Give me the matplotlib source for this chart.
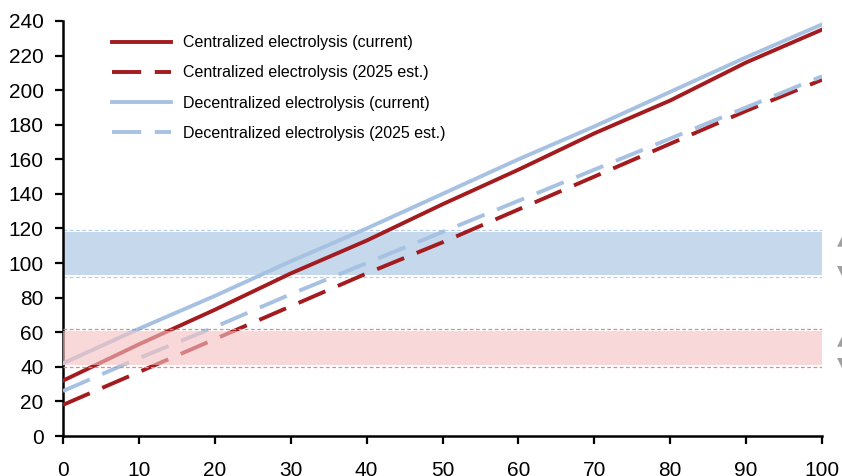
"""
Coste de hidrógeno: electrólisis centralizada vs descentralizada
"""
import matplotlib.pyplot as plt

# Datos
x = [0, 10, 20, 30, 40, 50, 60, 70, 80, 90, 100]
cent_current = [32, 53, 73, 94, 113, 134, 154, 175, 194, 216, 235]
cent_2025 = [18, 37, 56, 75, 94, 112, 131, 150, 169, 188, 206]
decent_current = [42, 62, 81, 101, 120, 140, 160, 179, 199, 219, 238]
decent_2025 = [26, 45, 63, 82, 100, 118, 136, 154, 172, 190, 208]

labels = ['Centralized electrolysis (current)',
          'Centralized electrolysis (2025 est.)',
          'Decentralized electrolysis (current)',
          'Decentralized electrolysis (2025 est.)']

blue_band = (92, 119)
red_band = (40, 62)

RED = '#A31B1F'
BLUE = '#A6C1E1'

plt.rcParams['font.family'] = ['Liberation Sans', 'DejaVu Sans']

fig = plt.figure(figsize=(8.42, 4.76), dpi=100)
ax = fig.add_axes([0.0748, 0.084, 0.9015, 0.872])

lw = 2.8
dash = (0, (7.5, 3.5))
ax.plot(x, cent_current, color=RED, lw=lw, label=labels[0], zorder=4)
ax.plot(x, cent_2025, color=RED, lw=lw, ls=dash, label=labels[1], zorder=4)
ax.plot(x, decent_current, color=BLUE, lw=lw, label=labels[2], zorder=4)
ax.plot(x, decent_2025, color=BLUE, lw=lw, ls=dash, label=labels[3], zorder=4)

# Banda azul debajo de las líneas, banda roja semitransparente encima
ax.axhspan(blue_band[0] + 1, blue_band[1] - 1, color='#C5D8EC', lw=0, zorder=1)
ax.axhspan(red_band[0] + 1, red_band[1] - 1, color=(245/255, 193/255, 193/255),
           alpha=0.62, lw=0, zorder=5)
for y in blue_band:
    ax.axhline(y, color='#B5CDE8', lw=0.9, ls=(0, (3, 2)), zorder=2)
for y in red_band:
    ax.axhline(y, color='#D98C8C', lw=0.9, ls=(0, (3, 2)), zorder=5)

ax.set_xlim(0, 100)
ax.set_ylim(0, 240)
ax.set_xticks(range(0, 101, 10))
ax.set_yticks(range(0, 241, 20))
ax.tick_params(labelsize=15, width=1.6, length=6, direction='out', pad=8)
ax.tick_params(axis='x', pad=12)
for s in ['top', 'right']:
    ax.spines[s].set_visible(False)
for s in ['left', 'bottom']:
    ax.spines[s].set_linewidth(1.8)

leg = ax.legend(loc='upper left', bbox_to_anchor=(0.045, 1.0), frameon=False,
                fontsize=11.5, handlelength=3.75, handletextpad=0.75,
                labelspacing=0.95)

# Flechas recortadas en el borde derecho
for yy, sym in [(240, '\u25B2'), (270, '\u25BC'), (340, '\u25B2'), (362, '\u25BC')]:
    fig.text(837 / 842, 1 - yy / 476, sym, color='#A0A0A0', fontsize=10,
             ha='left', va='center', family='DejaVu Sans')

plt.savefig('out.png', dpi=100)
